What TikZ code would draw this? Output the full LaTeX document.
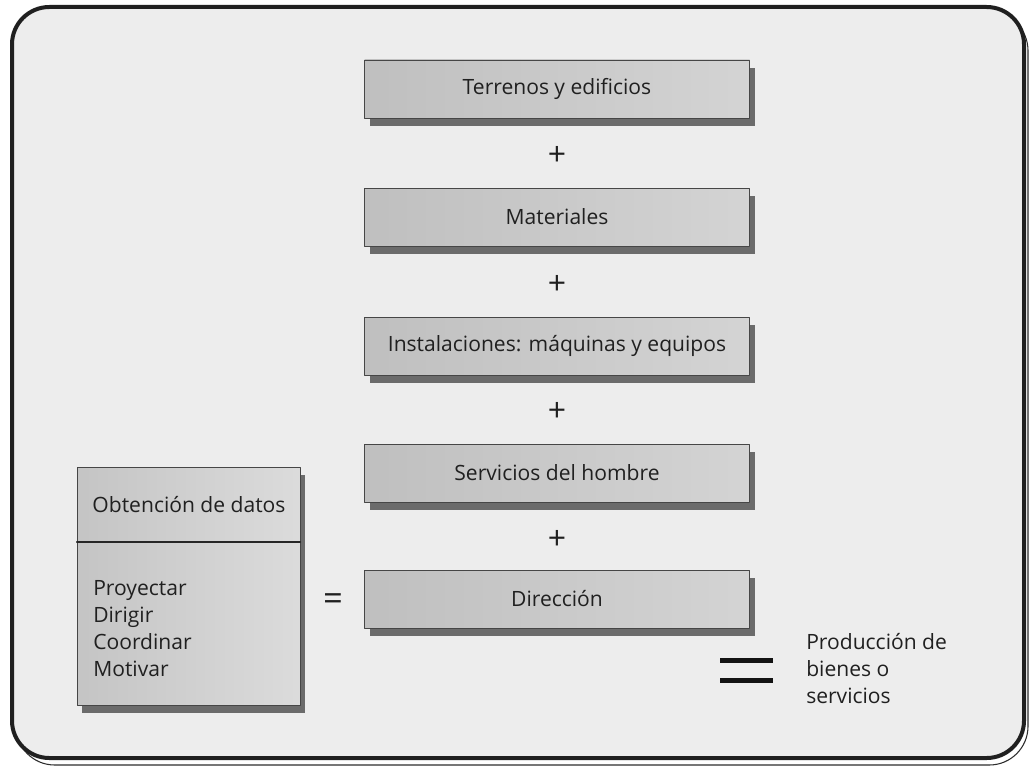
\documentclass[tikz,border=0pt]{standalone}
\usepackage{fontspec}
\setmainfont{Open Sans}
\usetikzlibrary{calc}
\usetikzlibrary{shadows}

\begin{document}
\begin{tikzpicture}[x=0.75pt, y=-0.75pt, line cap = round, line join = round]
\tikzstyle{factor}=[rectangle, draw=gray!55!black, line width=0.5pt, left color=gray!50, right color=gray!34, minimum width=288.75pt, minimum height=43.5pt, inner sep=0pt, text=gray!25!black, font=\fontsize{15.8}{20}\selectfont, drop shadow={shadow xshift=3.75pt, shadow yshift=-6pt, fill=gray!50!black, opacity=0.75}]
\tikzstyle{plus}=[inner sep=0pt, text=gray!25!black, font=\fontsize{24}{24}\selectfont]
\tikzstyle{label}=[inner sep=0pt, text=gray!25!black, align=left, font=\fontsize{15.8}{20.2}\selectfont]
\useasboundingbox (0,0) rectangle (1031,774);
\fill[white] (0,0) rectangle (1031,774);
% frame
\draw[line width=0.8pt, gray!35!black, rounded corners=29pt] (16,12) rectangle (1028,765);
\draw[line width=3pt, gray!25!black, fill=gray!14, rounded corners=28pt] (12,7) rectangle (1024,758);
% factores de la produccion
\node[factor] (terrenos) at (557,89) {Terrenos y edificios};
\node[factor] (materiales) at (557,217) {Materiales};
\node[factor] (instalaciones) at (557,346) {Instalaciones: máquinas y equipos};
\node[factor] (servicios) at (557,473) {Servicios del hombre};
\node[factor] (direccion) at (557,599) {Dirección};
\node[plus] (p1) at (557,156) {+};
\node[plus] (p2) at (557,285) {+};
\node[plus] (p3) at (557,412) {+};
\node[plus] (p4) at (557,540) {+};
% funciones de la direccion
\node[factor, minimum width=167.25pt, minimum height=178.5pt, left color=gray!46, right color=gray!28] (gestion) at (188.5,586) {};
\coordinate (cut) at (0,542);
\draw[line width=1pt, gray!30!black] (gestion.west |- cut) -- (gestion.east |- cut);
\node[label] (datos) at (189,505) {Obtención de datos};
\node[label, anchor=north west] (funciones) at (93,580) {Proyectar\\Dirigir\\Coordinar\\Motivar};
\node[plus, font=\fontsize{26}{26}\selectfont] (igual) at (333,602) {=};
% resultado
\fill[gray!15!black] (720,657.5) rectangle (773,662.5);
\fill[gray!15!black] (720,677.5) rectangle (773,682.5);
\node[label, anchor=north west] (produccion) at (806,633) {Producción de\\bienes o\\servicios};
%\draw (direccion) -- (produccion);
\end{tikzpicture}
\end{document}
